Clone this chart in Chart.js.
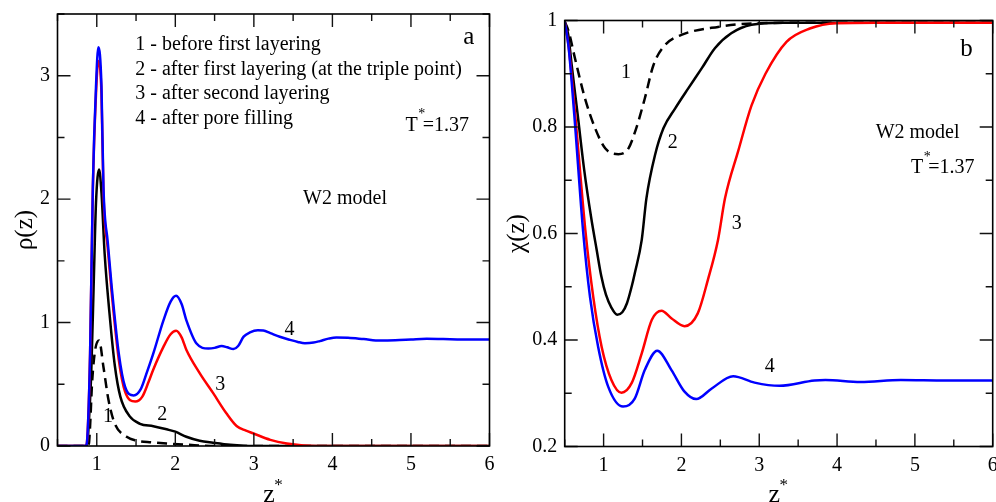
<!DOCTYPE html>
<html><head><meta charset="utf-8">
<script src="https://cdn.jsdelivr.net/npm/chart.js@4.4.1/dist/chart.umd.min.js"></script>
<style>
html,body{margin:0;padding:0;background:#fff;width:996px;height:502px;overflow:hidden;}
canvas{position:absolute;top:0;}
#cA{left:0;} #cB{left:500px;}
</style></head><body>
<canvas id="cA" width="500" height="502"></canvas>
<canvas id="cB" width="496" height="502"></canvas>
<script>
// ---------- Panel a: density profiles rho(z) ----------
const rhoZ1 = [0.5,0.88,0.9,0.915,0.94,0.98,1.03,1.085,1.15,1.23,1.38,1.5,1.7,1.89,2.15,2.5,6.0];
const rhoV1 = [0,0,0.02,0.16,0.51,0.78,0.855,0.64,0.37,0.18,0.075,0.045,0.03,0.02,0.01,0,0];
const rhoZ2 = [0.5,0.86,0.88,0.9,0.93,0.96,0.99,1.03,1.06,1.1,1.17,1.23,1.3,1.42,1.55,1.72,1.89,2.0,2.14,2.31,2.48,2.7,3.0,6.0];
const rhoV2 = [0,0,0.02,0.2,0.6,1.29,1.97,2.24,2.05,1.56,1.02,0.65,0.40,0.24,0.18,0.16,0.135,0.116,0.075,0.043,0.027,0.01,0,0];
const rhoZ3 = [0.5,0.85,0.87,0.89,0.915,0.95,0.99,1.02,1.06,1.085,1.14,1.19,1.28,1.36,1.49,1.58,1.66,1.72,1.85,1.94,2.01,2.08,2.14,2.31,2.48,2.65,2.78,2.9,2.99,3.21,3.42,3.63,4.0,5.0,6.0];
const rhoV3 = [0,0,0.01,0.2,0.75,2.08,2.85,3.12,2.85,2.05,1.6,1.24,0.7,0.44,0.36,0.40,0.52,0.62,0.805,0.905,0.933,0.88,0.78,0.59,0.43,0.265,0.162,0.125,0.103,0.05,0.02,0.005,0,0,0];
const rhoZ4 = [0.5,0.85,0.87,0.89,0.915,0.95,0.99,1.02,1.06,1.085,1.14,1.19,1.28,1.36,1.47,1.56,1.64,1.72,1.85,1.94,2.01,2.08,2.14,2.27,2.42,2.5,2.59,2.66,2.74,2.8,2.87,2.95,3.05,3.12,3.21,3.33,3.46,3.56,3.65,3.76,3.84,3.95,4.05,4.2,4.4,4.61,4.8,5.0,5.2,5.5,5.75,6.0];
const rhoV4 = [0,0,0.01,0.2,0.75,2.1,2.91,3.23,2.91,2.1,1.65,1.29,0.75,0.48,0.41,0.46,0.6,0.75,1.02,1.17,1.217,1.15,1.02,0.83,0.79,0.795,0.81,0.80,0.785,0.81,0.886,0.92,0.937,0.935,0.914,0.885,0.86,0.843,0.833,0.838,0.85,0.87,0.88,0.877,0.866,0.854,0.856,0.862,0.868,0.865,0.862,0.862];

// ---------- Panel b: chi(z) ----------
const chiZ1 = [0.5,0.55,0.632,0.76,0.89,1.02,1.19,1.32,1.42,1.53,1.64,1.79,2.0,2.47,2.99,4.0,6.0];
const chiV1 = [0.998,0.98,0.929,0.854,0.798,0.76,0.749,0.76,0.798,0.854,0.916,0.954,0.973,0.988,0.995,0.996,0.996];
const chiZ2 = [0.5,0.546,0.59,0.667,0.75,0.84,0.91,0.97,1.03,1.1,1.175,1.24,1.3,1.36,1.40,1.49,1.55,1.66,1.77,1.92,2.09,2.26,2.43,2.64,2.9,3.3,6.0];
const chiV2 = [0.998,0.973,0.916,0.823,0.72,0.63,0.57,0.52,0.485,0.461,0.4475,0.452,0.469,0.5,0.525,0.588,0.666,0.747,0.798,0.835,0.873,0.91,0.948,0.976,0.992,0.996,0.996];
const chiZ3 = [0.5,0.55,0.635,0.765,0.867,0.975,1.10,1.23,1.36,1.49,1.62,1.745,1.87,2.04,2.21,2.34,2.47,2.56,2.73,2.9,3.08,3.35,3.65,3.99,4.5,6.0];
const chiV3 = [0.998,0.952,0.823,0.607,0.481,0.387,0.325,0.301,0.319,0.375,0.438,0.455,0.441,0.426,0.45,0.513,0.588,0.666,0.755,0.84,0.9,0.96,0.985,0.995,0.996,0.996];
const chiZ4 = [0.5,0.55,0.623,0.735,0.825,0.93,1.06,1.25,1.40,1.53,1.69,1.87,2.04,2.19,2.39,2.665,2.94,3.26,3.71,3.85,4.3,4.82,5.4,6.0];
const chiV4 = [0.998,0.95,0.823,0.607,0.481,0.387,0.312,0.275,0.29,0.344,0.38,0.344,0.303,0.289,0.309,0.332,0.32,0.314,0.324,0.325,0.321,0.325,0.324,0.324];

const xTickLabels = ['1','2','3','4','5','6'];
const rhoTickLabels = ['0','1','2','3'];
const chiTickLabels = ['0.2','0.4','0.6','0.8','1'];

const legendLines = ['1 - before first layering','2 - after first layering (at the triple point)','3 - after second layering','4 - after pore filling'];

const SERIF = "'Liberation Serif','Times New Roman',serif";
const pts = (zs, vs) => zs.map((z,i)=>({x:z, y:vs[i]}));

function ds(zs, vs, color, dash, order){
  return {data: pts(zs,vs), borderColor: color, borderWidth: 2.5, borderDash: dash||[], order: order,
          pointRadius: 0, fill:false, cubicInterpolationMode:'monotone'};
}

function makeFramePlugin(c){
  return {
    id: 'frame_' + c.name,
    afterDraw(chart){
      const ctx = chart.ctx, a = chart.chartArea;
      const xs = chart.scales.x, ys = chart.scales.y;
      ctx.save();
      ctx.setLineDash([]);
      ctx.globalAlpha = 1;
      ctx.strokeStyle = '#111';
      ctx.lineWidth = 1.4;
      const nx = Math.round((xs.max - xs.min) / 0.5);
      for (let k = 0; k <= nx; k++){
        const v = xs.min + k*0.5;
        const p = xs.getPixelForValue(v);
        const L = (Math.abs(v - Math.round(v)) < 1e-6) ? 13 : 7;
        ctx.beginPath();
        ctx.moveTo(p, a.bottom); ctx.lineTo(p, a.bottom - L);
        ctx.moveTo(p, a.top); ctx.lineTo(p, a.top + L);
        ctx.stroke();
      }
      const ny = Math.round((ys.max - ys.min) / c.yStep);
      for (let k = 0; k <= ny; k++){
        const v = ys.min + k*c.yStep;
        const p = ys.getPixelForValue(v);
        const L = (k % 2 === 0) ? 13 : 7;
        ctx.beginPath();
        ctx.moveTo(a.left, p); ctx.lineTo(a.left + L, p);
        ctx.moveTo(a.right, p); ctx.lineTo(a.right - L, p);
        ctx.stroke();
      }
      ctx.strokeStyle = '#000'; ctx.lineWidth = 1.6;
      ctx.strokeRect(a.left, a.top, a.right - a.left, a.bottom - a.top);

      // annotations
      ctx.fillStyle = '#000';
      ctx.textBaseline = 'middle';
      for (const t of c.texts){
        const px = xs.getPixelForValue(t.x), py = ys.getPixelForValue(t.y);
        const size = t.size || 20;
        ctx.font = size + 'px ' + SERIF;
        if (t.sup){
          ctx.textAlign = 'left';
          ctx.fillText(t.base, px, py);
          const w = ctx.measureText(t.base).width;
          ctx.font = '14px ' + SERIF;
          ctx.fillText('*', px + w + 0.5, py - 11);
          ctx.font = size + 'px ' + SERIF;
          ctx.fillText(t.rest, px + w + 5, py);
        } else {
          ctx.textAlign = t.align || 'center';
          ctx.fillText(t.t, px, py);
        }
      }
      // x-axis title z*
      const cx = (a.left + a.right)/2;
      ctx.textBaseline = 'alphabetic';
      ctx.textAlign = 'center';
      ctx.font = '26px ' + SERIF;
      ctx.fillText('z', cx - 4.5, 502);
      ctx.font = '17px ' + SERIF;
      ctx.fillText('*', cx + 5, 490);
      ctx.restore();
    }
  };
}

function makeChart(id, c){
  return new Chart(document.getElementById(id), {
    type: 'line',
    data: {datasets: c.datasets},
    options: {
      responsive: false, animation: false, devicePixelRatio: 1,
      layout: {padding: {top: c.padTop, right: c.padRight, left: 0, bottom: 0}},
      plugins: {legend: {display: false}, tooltip: {enabled: false}},
      scales: {
        x: {type: 'linear', min: 0.5, max: 6,
            grid: {display: false, drawTicks: false}, border: {display: false},
            ticks: {stepSize: 0.5, padding: 7, autoSkip: false, maxRotation: 0, color: '#000',
                    font: {family: SERIF, size: 20},
                    callback: v => Number.isInteger(v) ? xTickLabels[v-1] : ''},
            afterFit: s => { s.height = c.xH; s.paddingLeft = 0; s.paddingRight = 0; }},
        y: {type: 'linear', min: c.yMin, max: c.yMax,
            grid: {display: false, drawTicks: false}, border: {display: false},
            title: {display: true, text: c.yTitle, color: '#000', font: {family: SERIF, size: 25},
                    padding: {top: c.titlePad, bottom: 0}},
            ticks: {stepSize: c.yStep, padding: 7.5, autoSkip: false, color: '#000',
                    font: {family: SERIF, size: 20}, callback: c.yLabel},
            afterFit: s => { s.width = c.yW; s.paddingTop = 0; s.paddingBottom = 0; }}
      }
    },
    plugins: [makeFramePlugin(c)]
  });
}

makeChart('cA', {
  name: 'a',
  datasets: [
    ds(rhoZ4, rhoV4, '#0000ff', null, 0),
    ds(rhoZ3, rhoV3, '#ff0000', null, 1),
    ds(rhoZ2, rhoV2, '#000000', null, 2),
    ds(rhoZ1, rhoV1, '#000000', [10,6], 3)
  ],
  padTop: 14, padRight: 10.5, xH: 56, yW: 57.5, titlePad: 10,
  yMin: 0, yMax: 3.5, yStep: 0.5, yTitle: 'ρ(z)',
  yLabel: v => { const r = Math.round(v*2); return r % 2 === 0 ? rhoTickLabels[r/2] : ''; },
  texts: [
    {t: legendLines[0], x: 1.49, y: 3.252, align: 'left'},
    {t: legendLines[1], x: 1.49, y: 3.05, align: 'left'},
    {t: legendLines[2], x: 1.49, y: 2.855, align: 'left'},
    {t: legendLines[3], x: 1.49, y: 2.652, align: 'left'},
    {sup: true, base: 'T', rest: '=1.37', x: 4.932, y: 2.595},
    {t: 'W2 model', x: 4.161, y: 2.003},
    {t: 'a', x: 5.736, y: 3.309, size: 25},
    {t: '1', x: 1.144, y: 0.235},
    {t: '2', x: 1.833, y: 0.251},
    {t: '3', x: 2.573, y: 0.495},
    {t: '4', x: 3.453, y: 0.941}
  ]
});

makeChart('cB', {
  name: 'b',
  datasets: [
    ds(chiZ4, chiV4, '#0000ff', null, 0),
    ds(chiZ3, chiV3, '#ff0000', null, 1),
    ds(chiZ2, chiV2, '#000000', null, 2),
    ds(chiZ1, chiV1, '#000000', [10,6], 3)
  ],
  padTop: 20.5, padRight: 3.3, xH: 55.5, yW: 64.7, titlePad: 2.5,
  yMin: 0.2, yMax: 1.0, yStep: 0.1, yTitle: 'χ(z)',
  yLabel: v => { const r = Math.round(v*10); return r % 2 === 0 ? chiTickLabels[(r-2)/2] : ''; },
  texts: [
    {t: '1', x: 1.287, y: 0.901},
    {t: '2', x: 1.89, y: 0.770},
    {t: '3', x: 2.712, y: 0.618},
    {t: '4', x: 3.135, y: 0.349},
    {t: 'b', x: 5.664, y: 0.946, size: 25},
    {t: 'W2 model', x: 5.035, y: 0.789},
    {sup: true, base: 'T', rest: '=1.37', x: 4.95, y: 0.723}
  ]
});
</script>
</body></html>
